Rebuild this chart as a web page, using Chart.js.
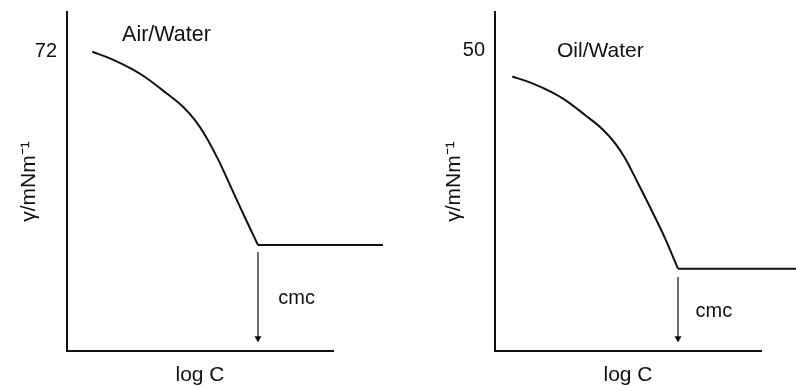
<!DOCTYPE html>
<html><head><meta charset="utf-8">
<script src="https://cdn.jsdelivr.net/npm/chart.js@4.4.0/dist/chart.umd.min.js"></script>
<style>
html,body{margin:0;padding:0;background:#fff;}
#wrap{position:relative;width:796px;height:386px;overflow:hidden;background:#fff;}
canvas{position:absolute;top:0;}
</style></head><body>
<div id="wrap">
<canvas id="c1" width="398" height="386" style="left:0"></canvas>
<canvas id="c2" width="398" height="386" style="left:398px"></canvas>
</div>
<script>
// ---- Air/Water panel data ----
const airLogC      = [0.95, 1.68, 2.43, 2.93, 3.68, 4.37, 4.81, 5.19, 5.69, 6.19, 6.69, 7.18];
const airGamma     = [72.0, 70.7, 69.0, 67.6, 65.0, 62.4, 60.1, 57.5, 53.2, 48.2, 43.2, 38.4];
const airFlatLogC  = [7.18, 11.88];
const airFlatGamma = [38.4, 38.4];
const airCmcLogC   = [7.18, 7.18];
const airCmcGamma  = [37.2, 22.2];
const airTicks     = [72];
// ---- Oil/Water panel data ----
const oilLogC      = [0.65, 1.38, 2.13, 2.63, 3.38, 4.07, 4.51, 4.89, 5.39, 5.89, 6.39, 6.88];
const oilGamma     = [45.7, 44.6, 43.1, 41.8, 39.3, 36.8, 34.6, 32.1, 27.8, 23.4, 18.8, 13.7];
const oilFlatLogC  = [6.88, 11.5];
const oilFlatGamma = [13.7, 13.7];
const oilCmcLogC   = [6.88, 6.88];
const oilCmcGamma  = [12.3, 2.1];
const oilTicks     = [50];
// ---- text ----
const xTitle = 'log C';
const yTitle = 'γ/mNm⁻¹';
const cmcLabel = 'cmc';

const FONT = '"Liberation Sans", Arial, Helvetica, sans-serif';
const INK = '#111';
Chart.defaults.font.family = FONT;
Chart.defaults.color = INK;

const pts = (xs, ys) => xs.map((x, i) => ({x: x, y: ys[i]}));

const notesPlugin = {
  id: 'notes',
  afterDatasetsDraw(chart) {
    const notes = chart.options.plugins.notes.items || [];
    const ctx = chart.ctx;
    const xs = chart.scales.x, ys = chart.scales.y;
    ctx.save();
    ctx.fillStyle = INK;
    ctx.textAlign = 'center';
    ctx.textBaseline = 'alphabetic';
    notes.forEach(n => {
      ctx.font = n.size + 'px ' + FONT;
      ctx.fillText(n.text, xs.getPixelForValue(n.x), ys.getPixelForValue(n.y));
    });
    ctx.restore();
  }
};

function makePanel(id, p) {
  return new Chart(document.getElementById(id), {
    type: 'line',
    data: {
      datasets: [
        { data: pts(p.cx, p.cy), borderColor: INK, borderWidth: 2, pointRadius: 0, cubicInterpolationMode: 'monotone', fill: false, clip: false },
        { data: pts(p.fx, p.fy), borderColor: INK, borderWidth: 2, pointRadius: 0, tension: 0, fill: false, clip: false },
        { data: pts(p.ax, p.ay), borderColor: INK, borderWidth: 1.2, pointRadius: [0, 3.6], pointStyle: 'triangle',
          rotation: 180, pointBackgroundColor: INK, pointBorderColor: INK, pointBorderWidth: 0.5, tension: 0, fill: false, clip: false }
      ]
    },
    options: {
      responsive: false,
      animation: false,
      devicePixelRatio: 1,
      layout: { padding: { top: 12, left: 0, right: p.padRight, bottom: 0 } },
      plugins: { legend: { display: false }, tooltip: { enabled: false }, notes: { items: p.notes } },
      scales: {
        x: {
          type: 'linear', min: 0, max: 10,
          grid: { display: false, drawTicks: false },
          border: { display: true, color: INK, width: 2 },
          ticks: { display: false },
          title: { display: true, text: xTitle, color: INK, font: { size: 21, lineHeight: 1 }, padding: { top: 0, bottom: 0 } },
          afterFit: s => { s.height = 35; s.paddingLeft = 0; s.paddingRight = 0; }
        },
        y: {
          type: 'linear', min: p.ymin, max: p.ymax,
          grid: { display: false, drawTicks: false },
          border: { display: true, color: INK, width: 2 },
          ticks: { color: INK, font: { size: 20 }, padding: 10 },
          afterBuildTicks: s => { s.ticks = p.ticks.map(v => ({ value: v })); },
          title: { display: true, text: yTitle, color: INK, font: { size: 21, lineHeight: 1 }, padding: { top: p.yTitlePad, bottom: 0 } },
          afterFit: s => { s.width = p.yWidth; s.paddingTop = 0; s.paddingBottom = 0; }
        }
      }
    },
    plugins: [notesPlugin]
  });
}

makePanel('c1', {
  cx: airLogC, cy: airGamma, fx: airFlatLogC, fy: airFlatGamma, ax: airCmcLogC, ay: airCmcGamma,
  ticks: airTicks, ymin: 20, ymax: 78.9, yWidth: 67, yTitlePad: 18.5, padRight: 65,
  notes: [ { text: 'Air/Water', x: 3.74, y: 73.87, size: 21.5 }, { text: cmcLabel, x: 8.63, y: 28.16, size: 20 } ]
});
makePanel('c2', {
  cx: oilLogC, cy: oilGamma, fx: oilFlatLogC, fy: oilFlatGamma, ax: oilCmcLogC, ay: oilCmcGamma,
  ticks: oilTicks, ymin: 0, ymax: 56.44, yWidth: 97, yTitlePad: 46, padRight: 35,
  notes: [ { text: 'Oil/Water', x: 3.96, y: 48.9, size: 21 }, { text: cmcLabel, x: 8.23, y: 5.71, size: 20 } ]
});
</script>
</body></html>
